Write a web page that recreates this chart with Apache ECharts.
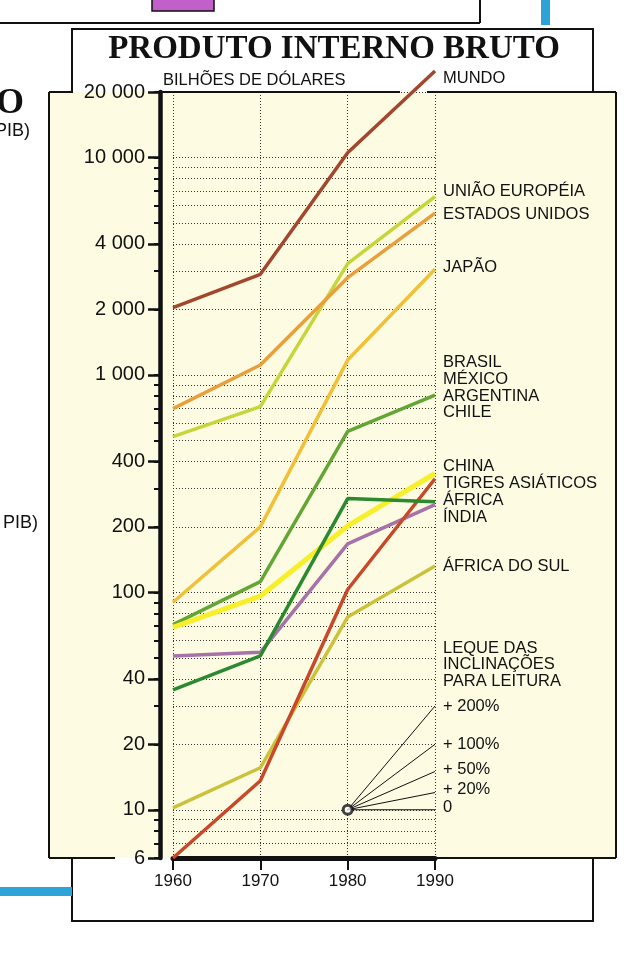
<!DOCTYPE html>
<html>
<head>
<meta charset="utf-8">
<script src="https://cdn.jsdelivr.net/npm/echarts@6.0.0/dist/echarts.min.js"></script>
<style>
html, body { margin: 0; padding: 0; background: #fff; }
#chart { width: 639px; height: 963px; }
</style>
</head>
<body>
<div id="chart"></div>
<script>
// PIB 1960-1990, bilhoes de dolares, escala logaritmica
const years = [1960, 1970, 1980, 1990];
const mundo = [2040, 2900, 10500, 25000];
const uniaoEuropeia = [520, 715, 3250, 6600];
const estadosUnidos = [700, 1110, 2800, 5550];
const japao = [90, 200, 1170, 3060];
const americaLatina = [71, 112, 550, 808];
const china = [69, 96, 202, 352];
const tigres = [6, 13.6, 103, 333];
const africa = [35.6, 51, 270, 261];
const india = [51, 53, 167, 253];
const africaDoSul = [10.2, 15.6, 77, 132];

// leque das inclinacoes: parte de 10 em 1980
const fanStart = 10;
const fanEnds = [10, 12, 15, 20, 30];

const yTicks = [6, 10, 20, 40, 100, 200, 400, 1000, 2000, 4000, 10000, 20000];
const yMinor = [7, 8, 9, 30, 50, 60, 70, 80, 90, 300, 500, 600, 700, 800, 900,
                3000, 5000, 6000, 7000, 8000, 9000];

const font = '"Liberation Sans", Arial, sans-serif';

function lineSeries(name, values, color, width) {
    return {
        name: name,
        type: 'line',
        data: years.map((y, i) => [y, values[i]]),
        symbol: 'none',
        clip: false,
        lineStyle: { color: color, width: width },
        z: 5
    };
}

const series = [
    lineSeries('Mundo', mundo, '#a2472e', 3.5),
    lineSeries('União Européia', uniaoEuropeia, '#c6d63a', 3.5),
    lineSeries('Estados Unidos', estadosUnidos, '#e99f3c', 3.5),
    lineSeries('Japão', japao, '#efc038', 3.5),
    lineSeries('Brasil, México, Argentina, Chile', americaLatina, '#63a636', 3.5),
    lineSeries('China', china, '#f7ef2a', 5),
    lineSeries('África do Sul', africaDoSul, '#cbc23c', 3.5),
    lineSeries('Índia', india, '#a772a8', 3.5),
    lineSeries('Tigres Asiáticos', tigres, '#c8482a', 3.5),
    lineSeries('África', africa, '#2b8a30', 3.5)
];

fanEnds.forEach(v => {
    series.push({
        type: 'line',
        data: [[1980, fanStart], [1990, v]],
        symbol: 'none',
        lineStyle: { color: '#111', width: 1 },
        z: 6
    });
});
series.push({
    type: 'scatter',
    data: [[1980, fanStart]],
    symbol: 'circle',
    symbolSize: 9,
    itemStyle: { color: '#fff', borderColor: '#111', borderWidth: 3 },
    z: 7
});

function fmt(v) {
    return String(Math.round(v)).replace(/\B(?=(\d{3})+(?!\d))/g, ' ');
}

const rightLabels = [
    ['MUNDO', 78], ['UNIÃO EUROPÉIA', 191], ['ESTADOS UNIDOS', 214], ['JAPÃO', 267],
    ['BRASIL', 362], ['MÉXICO', 379], ['ARGENTINA', 396], ['CHILE', 412],
    ['CHINA', 466], ['TIGRES ASIÁTICOS', 483], ['ÁFRICA', 500], ['ÍNDIA', 517],
    ['ÁFRICA DO SUL', 566],
    ['LEQUE DAS', 648], ['INCLINAÇÕES', 664], ['PARA LEITURA', 681],
    ['+ 200%', 706], ['+ 100%', 744], ['+ 50%', 769], ['+ 20%', 789], ['0', 807]
];

function seg(x1, y1, x2, y2, w) {
    return { type: 'line', shape: { x1: x1, y1: y1, x2: x2, y2: y2 }, style: { stroke: '#111', lineWidth: w || 2 }, z: 50 };
}
function txt(t, x, y, f, extra) {
    return { type: 'text', x: x, y: y, z: 60,
        style: Object.assign({ text: t, font: f, fill: '#111', verticalAlign: 'middle' }, extra || {}) };
}

const graphic = [
    // moldura branca e painel amarelo
    { type: 'rect', shape: { x: 72, y: 29, width: 521, height: 892 }, style: { fill: '#fff', stroke: '#111', lineWidth: 2 }, z: -20 },
    { type: 'rect', shape: { x: 49, y: 92, width: 567, height: 766 }, style: { fill: '#fdfbe2' }, z: -10 },
    seg(49, 92, 49, 858), seg(616, 92, 616, 858),
    seg(49, 92, 73, 92), seg(160, 92, 400, 92), seg(427, 92, 616, 92),
    seg(49, 858, 115, 858), seg(437, 858, 616, 858),
    // restos da pagina
    seg(0, 23, 480, 23), seg(480, 0, 480, 23),
    { type: 'rect', shape: { x: 152, y: -2, width: 62, height: 13 }, style: { fill: '#c060c8', stroke: '#111', lineWidth: 1.5 }, z: 40 },
    { type: 'rect', shape: { x: 541, y: 0, width: 9, height: 25 }, style: { fill: '#2ea3d9' }, z: 40 },
    { type: 'rect', shape: { x: 0, y: 887, width: 72, height: 9 }, style: { fill: '#2ea3d9' }, z: 40 },
    txt('O', -4, 104, 'bold 36px "Liberation Serif", serif'),
    txt('PIB)', -5, 131, '18px ' + font),
    txt('PIB)', 3, 523, '18px ' + font),
    // titulos
    txt('PRODUTO INTERNO BRUTO', 334, 49, 'bold 33px "Liberation Serif", serif', { align: 'center' }),
    txt('BILHÕES DE DÓLARES', 163, 80, '16.5px ' + font)
].concat(rightLabels.map(l => txt(l[0], 443, l[1], '16.5px ' + font)));

const chart = echarts.init(document.getElementById('chart'));
chart.setOption({
    animation: false,
    backgroundColor: '#fff',
    grid: { left: 173, right: 204, top: 92, bottom: 105, containLabel: false },
    xAxis: {
        type: 'value', min: 1960, max: 1990, interval: 10,
        axisLine: { show: true, lineStyle: { color: '#111', width: 5 } },
        axisTick: { show: true, length: 12, lineStyle: { color: '#111', width: 2 } },
        axisLabel: { color: '#111', fontSize: 17, fontFamily: font, margin: 15, formatter: v => String(v) },
        splitLine: { show: true, lineStyle: { color: '#333', width: 1, type: [1, 2] } }
    },
    yAxis: [{
        type: 'log', logBase: 10, min: 6, max: 20000, offset: 13,
        axisLine: { show: true, onZero: false, lineStyle: { color: '#111', width: 4.5 } },
        axisTick: { show: true, length: 12, customValues: yTicks, lineStyle: { color: '#111', width: 2.5 } },
        axisLabel: { color: '#111', fontSize: 20, fontFamily: font, margin: 15, customValues: yTicks, formatter: fmt },
        splitLine: { show: false }
    }, {
        type: 'log', logBase: 10, min: 6, max: 20000, offset: 13, position: 'left',
        axisLine: { show: false },
        axisTick: { show: true, length: 6, customValues: yMinor.concat(yTicks), lineStyle: { color: '#111', width: 2 } },
        axisLabel: { show: false },
        splitLine: { show: true, lineStyle: { color: '#333', width: 1, type: [1, 2] } }
    }],
    series: series,
    graphic: graphic
});
</script>
</body>
</html>
